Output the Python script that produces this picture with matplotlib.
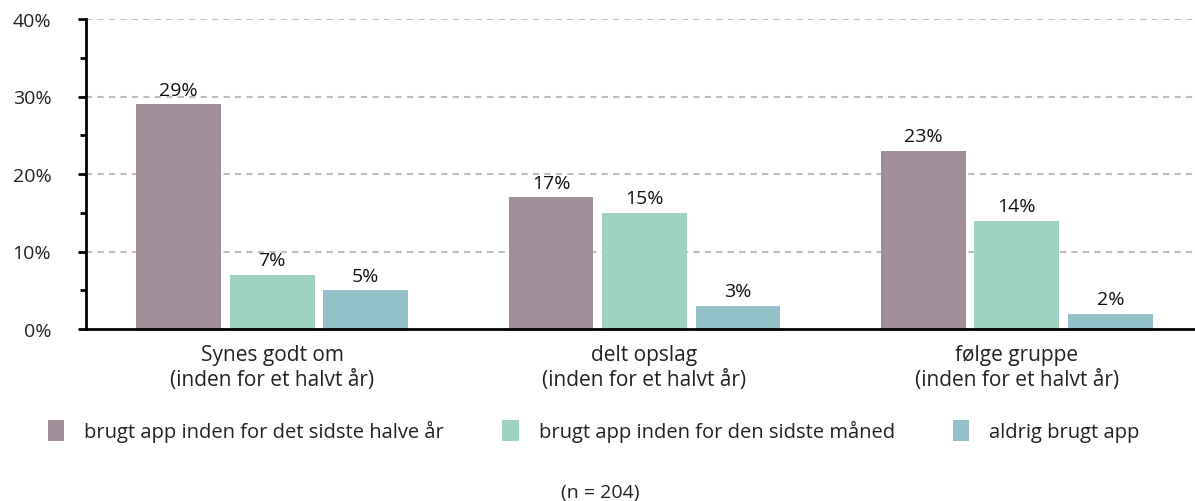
import matplotlib.pyplot as plt
import numpy as np

plt.rcParams['font.family'] = ['Open Sans', 'DejaVu Sans']

categories = ['Synes godt om\n(inden for et halvt år)',
              'delt opslag\n(inden for et halvt år)',
              'følge gruppe\n(inden for et halvt år)']
series = ['brugt app inden for det sidste halve år',
          'brugt app inden for den sidste måned',
          'aldrig brugt app']
halvt_aar = [29, 17, 23]
maaned = [7, 15, 14]
aldrig = [5, 3, 2]
yticks = [0, 10, 20, 30, 40]
note = '(n = 204)'

colors = ['#A08E98', '#A0D2C0', '#93C0C8']

fig = plt.figure(figsize=(11.95, 5.02), dpi=100)
ax = fig.add_axes([86 / 1195, 1 - 330 / 502, 1117 / 1195, 310 / 502])

x = np.arange(len(categories))
width = 0.228
offset = 0.251
for i, (vals, name) in enumerate(zip([halvt_aar, maaned, aldrig], series)):
    bars = ax.bar(x + (i - 1) * offset, vals, width, color=colors[i], label=name, zorder=3)
    ax.bar_label(bars, labels=[f'{v}%' for v in vals], padding=4, fontsize=14, color='#111111')

ax.set_xlim(-0.5, 2.5)
ax.set_ylim(0, 40)
ax.set_yticks(yticks)
ax.set_yticklabels([f'{t}%' for t in yticks])
ax.set_yticks(np.arange(5, 40, 10), minor=True)
ax.set_xticks(x)
ax.set_xticklabels(categories, linespacing=1.25)

for t in yticks[1:]:
    ax.axhline(t, color='#BDBDBD', linewidth=1.5, linestyle=(0, (3, 2.5)), zorder=1)

for s in ['top', 'right']:
    ax.spines[s].set_visible(False)
ax.spines['left'].set_linewidth(2)
ax.spines['bottom'].set_linewidth(2)
ax.spines['left'].set_zorder(4)
ax.spines['bottom'].set_zorder(4)
ax.tick_params(axis='y', which='major', length=6, width=2, pad=19, labelsize=14, labelcolor='#222222')
ax.tick_params(axis='y', which='minor', length=4.5, width=2)
ax.tick_params(axis='x', length=0, pad=11, labelsize=15, labelcolor='#222222')

fig.legend(loc='center', bbox_to_anchor=(0.497, 1 - 432 / 502), ncol=3, frameon=False,
           fontsize=14.5, handlelength=0.8, handleheight=1.2, handletextpad=1.0,
           columnspacing=2.9, labelcolor='#222222')
fig.text(0.502, 1 - 493 / 502, note, ha='center', va='center', fontsize=14, color='#222222')

fig.savefig('out.png', dpi=100)
